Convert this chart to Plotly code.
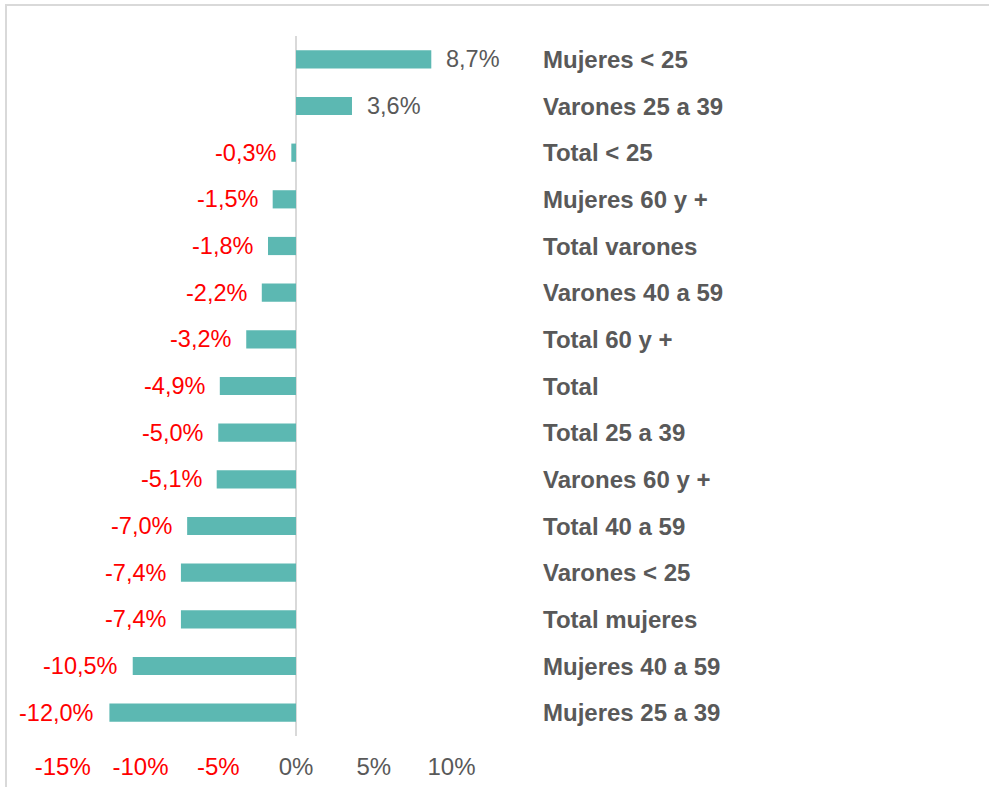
import plotly.graph_objects as go

categories = ["Mujeres < 25", "Varones 25 a 39", "Total < 25", "Mujeres 60 y +",
              "Total varones", "Varones 40 a 59", "Total 60 y +", "Total",
              "Total 25 a 39", "Varones 60 y +", "Total 40 a 59", "Varones < 25",
              "Total mujeres", "Mujeres 40 a 59", "Mujeres 25 a 39"]
values = [8.7, 3.6, -0.3, -1.5, -1.8, -2.2, -3.2, -4.9, -5.0, -5.1, -7.0, -7.4, -7.4, -10.5, -12.0]
tick_vals = [-15, -10, -5, 0, 5, 10]
tick_labels = ["-15%", "-10%", "-5%", "0%", "5%", "10%"]

BAR = "#5CB8B2"
GRAY = "#595959"
RED = "#FF0000"
FONT = "Liberation Sans, Arial, sans-serif"

W, H = 989, 787
ml, mr, mt, mb = 20, 29, 36, 51
pw = W - ml - mr
ph = H - mt - mb
zero_px = 296
px_per = 15.55
xmin = -(zero_px - ml) / px_per
xmax = xmin + pw / px_per

fig = go.Figure()
fig.add_trace(go.Bar(
    x=values, y=categories, orientation="h",
    marker=dict(color=BAR, line=dict(width=0)),
    width=0.39, hoverinfo="skip",
))

annotations = []
for c, v in zip(categories, values):
    txt = f"{v:.1f}".replace(".", ",") + "%"
    annotations.append(dict(
        x=v, y=c, xref="x", yref="y", text=txt, showarrow=False,
        xanchor="left" if v >= 0 else "right",
        xshift=13 if v >= 0 else -13,
        font=dict(family=FONT, size=23.5, color=GRAY if v >= 0 else RED),
    ))
    annotations.append(dict(
        x=(541 - zero_px) / px_per, y=c, xref="x", yref="y",
        text=f"<b>{c}</b>", showarrow=False, xanchor="left",
        font=dict(family=FONT, size=24, color=GRAY),
    ))

ticktext = [f'<span style="color:{RED if v < 0 else GRAY}">{t}</span>'
            for v, t in zip(tick_vals, tick_labels)]

def px_to_paper_x(p):
    return (p - ml) / pw

def px_to_paper_y(p):
    return (mt + ph - p) / ph

fig.update_layout(
    width=W, height=H,
    margin=dict(l=ml, r=mr, t=mt, b=mb),
    paper_bgcolor="white", plot_bgcolor="white",
    showlegend=False,
    font=dict(family=FONT, size=24, color=GRAY),
    xaxis=dict(
        range=[xmin, xmax], tickvals=tick_vals, ticktext=ticktext,
        showgrid=False, zeroline=True, zerolinecolor="#D9D9D9", zerolinewidth=2,
        showline=False, ticks="", ticklabelstandoff=14, automargin=False,
        tickfont=dict(family=FONT, size=24, color=GRAY),
    ),
    yaxis=dict(
        autorange="reversed", showticklabels=False, showgrid=False,
        zeroline=False, showline=False, ticks="", automargin=False,
    ),
    annotations=annotations,
    shapes=[dict(
        type="rect", xref="paper", yref="paper",
        x0=px_to_paper_x(6), x1=px_to_paper_x(1010),
        y0=px_to_paper_y(810), y1=px_to_paper_y(5),
        line=dict(color="#D9D9D9", width=2), fillcolor="rgba(0,0,0,0)",
        layer="below",
    )],
)

fig.write_html("out.html")
